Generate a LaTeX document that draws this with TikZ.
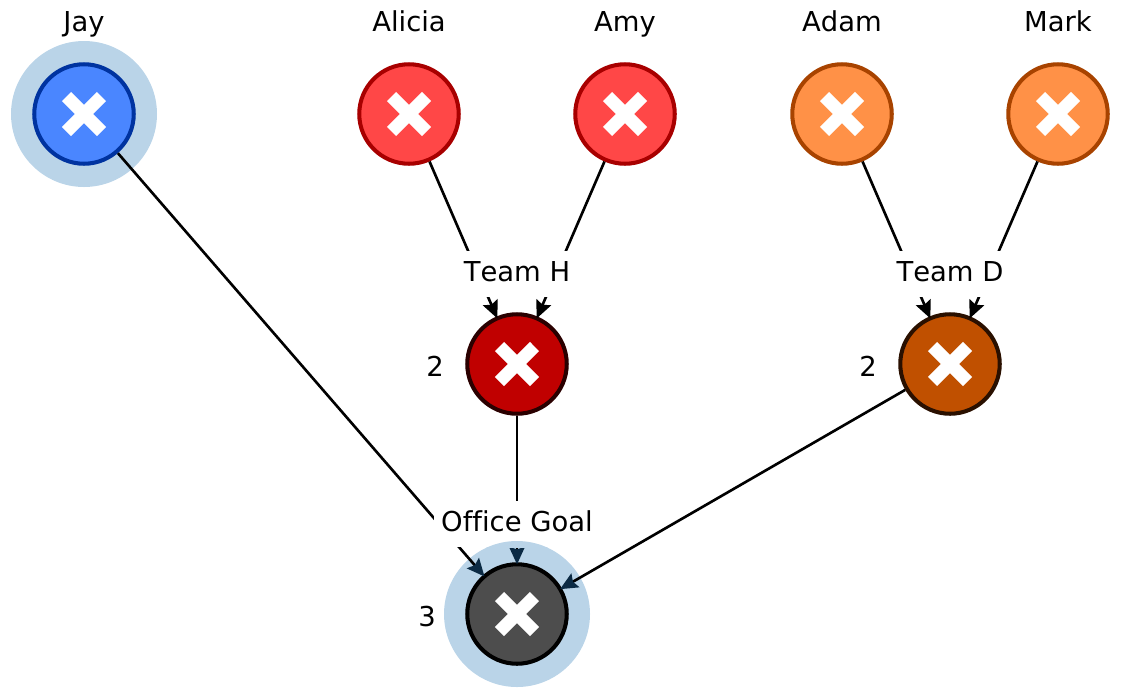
\documentclass[tikz,border=0pt]{standalone}
\usepackage{fontspec}
\setmainfont{DejaVu Sans}[Ligatures=NoCommon, Kerning=Off]
\usetikzlibrary{arrows.meta}
\definecolor{halo}{HTML}{BAD4E8}
\definecolor{tipnavy}{HTML}{0B2A44}
\definecolor{jayfill}{HTML}{4A86FF}
\definecolor{jayline}{HTML}{0033A0}
\definecolor{redfill}{HTML}{FF4747}
\definecolor{redline}{HTML}{A80000}
\definecolor{orangefill}{HTML}{FF9147}
\definecolor{orangeline}{HTML}{A84300}
\definecolor{teamhfill}{HTML}{C00000}
\definecolor{teamhline}{HTML}{2A0000}
\definecolor{teamdfill}{HTML}{C05000}
\definecolor{teamdline}{HTML}{2A1000}
\definecolor{goalfill}{HTML}{4D4D4D}
\tikzset{
  person/.style={circle, draw=#1, line width=2.3pt, minimum size=1.99cm, inner sep=0pt,
    path picture={\draw[white, line width=0.26cm]
      ([shift={(-17.5,-17.5)}]path picture bounding box.center) -- ([shift={(17.5,17.5)}]path picture bounding box.center)
      ([shift={(-17.5,17.5)}]path picture bounding box.center) -- ([shift={(17.5,-17.5)}]path picture bounding box.center);}},
  name text/.style={font=\fontsize{15.6pt}{18pt}\selectfont, text height=11.9pt, text depth=3.6pt},
  gate label/.style={name text, fill=white, inner xsep=0.14cm, inner ysep=0pt, minimum height=0.92cm, text depth=3pt},
  edge/.style={line width=1.5pt, shorten >=-1.2pt, -{Stealth[length=10pt, width=9pt, inset=1.5pt]}},
  goal edge/.style={line width=1.5pt, shorten >=-1.2pt, -{Stealth[length=10pt, width=9pt, inset=1.5pt, color=tipnavy]}}
}
\begin{document}
\begin{tikzpicture}[x=0.02cm, y=-0.02cm]
    \useasboundingbox (0,0) rectangle (1121,697);
    \fill[halo] (84,114) circle (73);
    \fill[halo] (517,614) circle (73);

    \node[person=jayline, fill=jayfill] (jay) at (84,114) {};
    \node[person=redline, fill=redfill] (alicia) at (409,114) {};
    \node[person=redline, fill=redfill] (amy) at (625,114) {};
    \node[person=orangeline, fill=orangefill] (adam) at (842,114) {};
    \node[person=orangeline, fill=orangefill] (mark) at (1058,114) {};
    \node[person=teamhline, fill=teamhfill] (teamh) at (517,364) {};
    \node[person=teamdline, fill=teamdfill] (teamd) at (950,364) {};
    \node[person=black, fill=goalfill] (goal) at (517,614) {};

    \draw[edge] (alicia) -- (teamh);
    \draw[edge] (amy) -- (teamh);
    \draw[edge] (adam) -- (teamd);
    \draw[edge] (mark) -- (teamd);
    \draw[goal edge] (jay) -- (goal);
    \draw[goal edge] (teamh) -- (goal);
    \draw[goal edge] (teamd) -- (goal);

    \node[gate label] (teamhlabel) at (517,274) {Team H};
    \node[gate label] (teamdlabel) at (950,274) {Team D};
    \node[gate label] (goallabel) at (517,524) {Office Goal};
    \begin{scope}
        \clip (goallabel.south west) rectangle (goallabel.north east);
        \fill[halo] (goal) circle (73);
    \end{scope}

    \node[name text] (jayname) at (84,24.5) {Jay};
    \node[name text] (alicianame) at (409,24.5) {Alicia};
    \node[name text] (amyname) at (625,24.5) {Amy};
    \node[name text] (adamname) at (842,24.5) {Adam};
    \node[name text] (markname) at (1058,24.5) {Mark};
    \node[name text] (teamhcount) at (435,369.5) {2};
    \node[name text] (teamdcount) at (868,369.5) {2};
    \node[name text] (goalcount) at (427,619) {3};
\end{tikzpicture}
\end{document}
